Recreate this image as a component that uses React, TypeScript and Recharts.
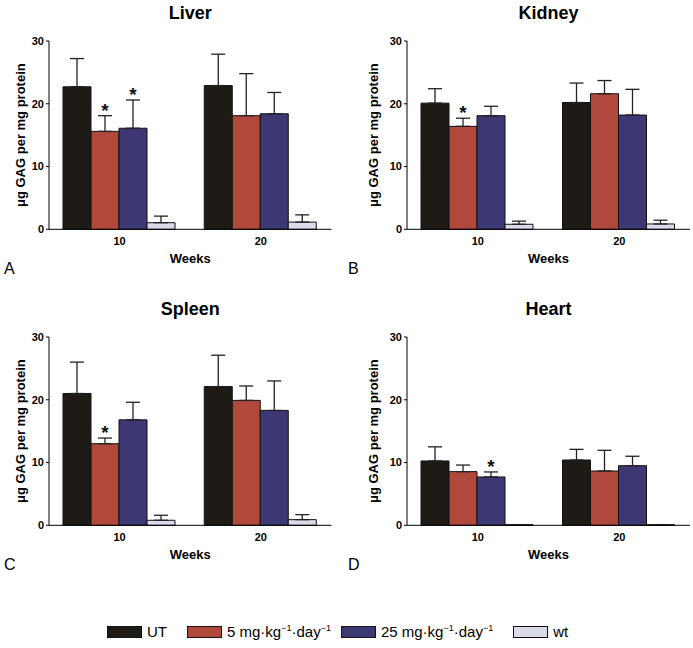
import { BarChart, Bar, XAxis, YAxis, ErrorBar, LabelList } from 'recharts'

// categories and groups
const weeks = ['10', '20']
const seriesKeys = ['ut', 'low', 'high', 'wt']
const seriesColors = ['#1e1b17', '#b0493b', '#3d3873', '#dadaea']

// values per group (UT, 5 mg, 25 mg, wt), each [10 weeks, 20 weeks]
const liverMean = [[22.7, 22.9], [15.6, 18.1], [16.1, 18.4], [1.05, 1.15]]
const liverSD = [[4.5, 5.0], [2.5, 6.7], [4.5, 3.4], [1.05, 1.15]]
const liverStar = [[0, 0], [1, 0], [1, 0], [0, 0]]

const kidneyMean = [[20.1, 20.2], [16.4, 21.6], [18.1, 18.2], [0.8, 0.85]]
const kidneySD = [[2.3, 3.1], [1.3, 2.1], [1.5, 4.1], [0.5, 0.6]]
const kidneyStar = [[0, 0], [1, 0], [0, 0], [0, 0]]

const spleenMean = [[21.0, 22.1], [13.0, 19.9], [16.8, 18.3], [0.8, 0.9]]
const spleenSD = [[5.0, 5.0], [0.9, 2.3], [2.8, 4.7], [0.8, 0.8]]
const spleenStar = [[0, 0], [1, 0], [0, 0], [0, 0]]

const heartMean = [[10.25, 10.4], [8.55, 8.65], [7.7, 9.5], [0.1, 0.1]]
const heartSD = [[2.25, 1.7], [1.05, 3.3], [0.8, 1.5], [0, 0]]
const heartStar = [[0, 0], [0, 0], [1, 0], [0, 0]]

const yTicks = [0, 10, 20, 30]

const FONT = '"Liberation Sans", Arial, sans-serif'
const PLOT_H = 188.3
const PPU = PLOT_H / 30 // pixels per unit on the y axis

function buildRows(mean: number[][], sd: number[][], star: number[][]) {
  return weeks.map((w, i) => {
    const row: any = { week: w }
    seriesKeys.forEach((k, s) => {
      row[k] = mean[s][i]
      row[k + 'Err'] = [0, sd[s][i]]
      row[k + 'Star'] = star[s][i] ? sd[s][i] : null
    })
    return row
  })
}

// asterisk drawn right above the error bar cap
function StarLabel(props: any) {
  const { x = 0, y = 0, width = 0, value } = props
  if (value === null || value === undefined) return null
  const capY = y - value * PPU
  return (
    <text x={x + width / 2} y={capY + 1} textAnchor="middle"
      style={{ fontSize: 19, fontWeight: 700, fill: '#111', fontFamily: FONT }}>
      *
    </text>
  )
}

interface PanelProps {
  title: string
  letter: string
  left: number
  top: number
  width: number
  marginLeft: number
  marginRight: number
  labelOffset: number
  rows: any[]
}

function Panel({ title, letter, left, top, width, marginLeft, marginRight, labelOffset, rows }: PanelProps) {
  const plotLeft = marginLeft + 40
  const plotW = width - plotLeft - marginRight
  return (
    <div style={{ position: 'absolute', left, top, width, height: 290 }}>
      <div style={{
        position: 'absolute', left: plotLeft, width: plotW, top: 4, textAlign: 'center',
        fontSize: 18, fontWeight: 700, lineHeight: '18px',
      }}>
        {title}
      </div>
      <div style={{ position: 'absolute', left: letter === 'A' || letter === 'C' ? 4 : 2, top: 261, fontSize: 16, lineHeight: '16px' }}>
        {letter}
      </div>
      <BarChart
        width={width}
        height={290}
        data={rows}
        margin={{ top: 41, right: marginRight, left: marginLeft, bottom: 40.7 }}
        barCategoryGap={14}
        barGap={0}
      >
        <XAxis
          dataKey="week"
          height={20}
          tickLine={false}
          tickSize={0}
          tickMargin={8}
          axisLine={{ stroke: '#000', strokeWidth: 1 }}
          tick={{ fontSize: 11, fontWeight: 700, fill: '#000', fontFamily: FONT }}
          label={{ value: 'Weeks', position: 'bottom', offset: 4, style: { fontSize: 13, fontWeight: 700, fill: '#000', fontFamily: FONT } }}
        />
        <YAxis
          width={40}
          domain={[0, 30]}
          ticks={yTicks}
          tickSize={3}
          tickMargin={2}
          axisLine={{ stroke: '#000', strokeWidth: 1 }}
          tickLine={{ stroke: '#000', strokeWidth: 1 }}
          tick={{ fontSize: 11, fontWeight: 700, fill: '#000', fontFamily: FONT }}
          label={{
            value: 'μg GAG per mg protein', angle: -90, position: 'insideLeft', offset: labelOffset,
            style: { textAnchor: 'middle', fontSize: 13, fontWeight: 700, fill: '#000', fontFamily: FONT },
          }}
        />
        {seriesKeys.map((k, s) => (
          <Bar key={k} dataKey={k} fill={seriesColors[s]} stroke="#111" strokeWidth={1} isAnimationActive={false}>
            <ErrorBar dataKey={k + 'Err'} direction="y" width={7} stroke="#222" strokeWidth={1.3} />
            <LabelList dataKey={k + 'Star'} content={<StarLabel />} />
          </Bar>
        ))}
      </BarChart>
    </div>
  )
}

function LegendItem({ color, gap, children }: { color: string; gap: number; children: any }) {
  return (
    <div style={{ display: 'flex', alignItems: 'center', marginRight: gap }}>
      <div style={{ width: 33, height: 10, background: color, border: '1px solid #111', marginRight: 5 }} />
      <span>{children}</span>
    </div>
  )
}

const sup = (t: string) => <sup style={{ fontSize: 9, lineHeight: 0 }}>{t}</sup>

export default function App() {
  return (
    <div style={{ position: 'absolute', left: 0, top: 0, width: 693, height: 648, background: '#fff', fontFamily: FONT, color: '#000' }}>
      <Panel title="Liver" letter="A" left={0} top={0} width={346} marginLeft={9} marginRight={14.5} labelOffset={11}
        rows={buildRows(liverMean, liverSD, liverStar)} />
      <Panel title="Kidney" letter="B" left={346} top={0} width={347} marginLeft={21} marginRight={3} labelOffset={6}
        rows={buildRows(kidneyMean, kidneySD, kidneyStar)} />
      <Panel title="Spleen" letter="C" left={0} top={296} width={346} marginLeft={9} marginRight={14.5} labelOffset={11}
        rows={buildRows(spleenMean, spleenSD, spleenStar)} />
      <Panel title="Heart" letter="D" left={346} top={296} width={347} marginLeft={21} marginRight={3} labelOffset={6}
        rows={buildRows(heartMean, heartSD, heartStar)} />
      <div style={{ position: 'absolute', left: 107, top: 623, display: 'flex', fontSize: 15, lineHeight: '18px' }}>
        <LegendItem color={seriesColors[0]} gap={20}>UT</LegendItem>
        <LegendItem color={seriesColors[1]} gap={10}>5 mg·kg{sup('−1')}·day{sup('−1')}</LegendItem>
        <LegendItem color={seriesColors[2]} gap={20}>25 mg·kg{sup('−1')}·day{sup('−1')}</LegendItem>
        <LegendItem color={seriesColors[3]} gap={0}>wt</LegendItem>
      </div>
    </div>
  )
}
